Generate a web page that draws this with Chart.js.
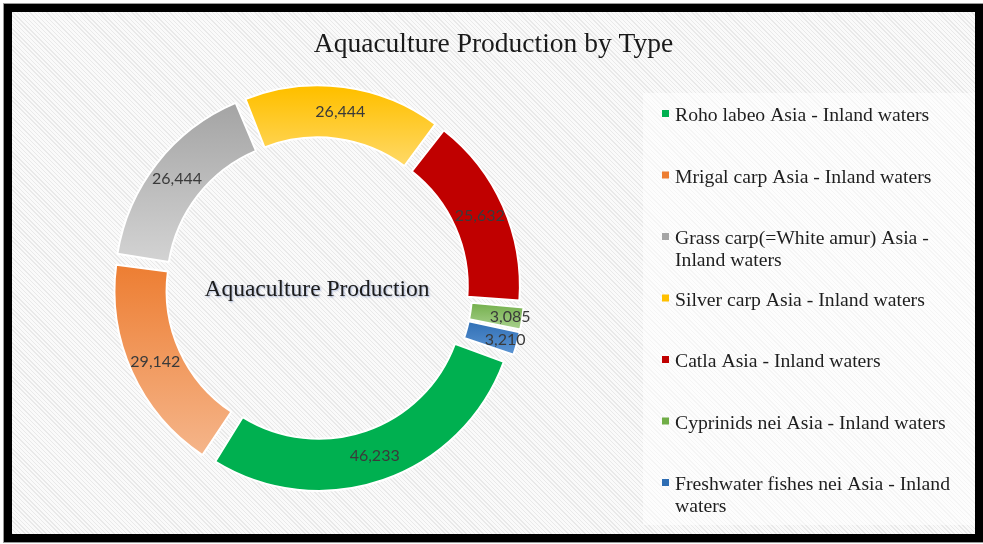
<!DOCTYPE html>
<html>
<head>
<meta charset="utf-8">
<title>Aquaculture Production by Type</title>
<script src="https://cdn.jsdelivr.net/npm/chart.js@4.4.1/dist/chart.umd.min.js"></script>
<style>
  html, body { margin: 0; padding: 0; background: #ffffff; }
  #frame {
    position: absolute; left: 4px; top: 4px;
    width: 979px; height: 538px; box-sizing: border-box;
    border: 8px solid #000000;
    box-shadow: 0 0 0 1px #9a9a9a;
    background: repeating-linear-gradient(45deg, #e9e9e9 0px, #e9e9e9 1px, #fafafa 1px, #fafafa 3px);
  }
  #chart { position: absolute; left: 0; top: 0; }
</style>
</head>
<body>
<div id="frame"><canvas id="chart" width="963" height="522"></canvas></div>
<script>
// Chart content
const chartTitle = 'Aquaculture Production by Type';
const centerLabel = 'Aquaculture Production';
const categories = [
  'Roho labeo Asia - Inland waters',
  'Mrigal carp Asia - Inland waters',
  'Grass carp(=White amur) Asia - Inland waters',
  'Silver carp Asia - Inland waters',
  'Catla Asia - Inland waters',
  'Cyprinids nei Asia - Inland waters',
  'Freshwater fishes nei Asia - Inland waters'
];
const production = [46233, 29142, 26444, 26444, 25632, 3085, 3210];

// Slice fills: top and bottom colour of each vertical gradient
const sliceTop    = ['#00B050', '#ED7D31', '#A5A5A5', '#FFC000', '#C00000', '#70AD47', '#2E6DB3'];
const sliceBottom = ['#00B050', '#F5B58A', '#D4D4D4', '#FFDB70', '#C00000', '#A9D18E', '#5A93D2'];
const markerColors = ['#00B050', '#ED7D31', '#A5A5A5', '#FFC000', '#C00000', '#70AD47', '#2E6DB3'];

const SERIF = '"Liberation Serif", "Times New Roman", serif';

function arcProps(arc) {
  return arc.getProps(['x', 'y', 'startAngle', 'endAngle', 'innerRadius', 'outerRadius'], true);
}

// Radial distance Chart.js moves an arc when drawing it (offset + spacing)
function arcShift(arc, p) {
  const off = (arc.options.offset || 0) / 4;
  const gap = (arc.options.spacing || 0) / 2;
  const fix = 1 - Math.sin(Math.min(Math.PI, p.endAngle - p.startAngle));
  return off * (1 + fix) + off * fix + gap;
}

// Give every slice a top-to-bottom gradient spanning its own height
const sliceGradients = {
  id: 'sliceGradients',
  afterDatasetsUpdate(chart) {
    const ctx = chart.ctx;
    chart.getDatasetMeta(0).data.forEach((arc, i) => {
      const p = arcProps(arc);
      let yMin = Infinity, yMax = -Infinity;
      for (let k = 0; k <= 32; k++) {
        const a = p.startAngle + (p.endAngle - p.startAngle) * k / 32;
        [p.innerRadius, p.outerRadius].forEach(r => {
          const py = p.y + Math.sin(a) * r;
          yMin = Math.min(yMin, py);
          yMax = Math.max(yMax, py);
        });
      }
      const g = ctx.createLinearGradient(0, yMin, 0, yMax + 1);
      g.addColorStop(0, sliceTop[i]);
      g.addColorStop(1, sliceBottom[i]);
      arc.options = Object.assign({}, arc.options, { backgroundColor: g });
    });
  }
};

// Value labels on the ring
const sliceLabels = {
  id: 'sliceLabels',
  afterDatasetsDraw(chart) {
    const ctx = chart.ctx;
    const meta = chart.getDatasetMeta(0);
    const total = production.reduce((s, v) => s + v, 0);
    ctx.save();
    ctx.font = '16px Lato, "Open Sans", sans-serif';
    ctx.fillStyle = '#3a3a3a';
    ctx.textAlign = 'center';
    ctx.textBaseline = 'middle';
    meta.data.forEach((arc, i) => {
      const p = arcProps(arc);
      const mid = (p.startAngle + p.endAngle) / 2;
      const thin = production[i] / total < 0.05;
      const r = (thin ? p.outerRadius - 17 : (p.innerRadius + p.outerRadius) / 2) + arcShift(arc, p);
      ctx.fillText(production[i].toLocaleString('en-US'), p.x + Math.cos(mid) * r, p.y + Math.sin(mid) * r);
    });
    ctx.restore();
  }
};

// Caption in the hole of the doughnut
const centerCaption = {
  id: 'centerCaption',
  afterDatasetsDraw(chart) {
    const arc = chart.getDatasetMeta(0).data[0];
    if (!arc) return;
    const ctx = chart.ctx;
    ctx.save();
    ctx.font = '23.5px ' + SERIF;
    ctx.fillStyle = '#1c1c1c';
    ctx.textAlign = 'center';
    ctx.textBaseline = 'middle';
    ctx.shadowColor = 'rgba(70, 100, 170, 0.45)';
    ctx.shadowBlur = 2;
    ctx.shadowOffsetX = 1;
    ctx.shadowOffsetY = 1;
    ctx.fillText(centerLabel, arc.x, arc.y + 1);
    ctx.restore();
  }
};

// Right-hand legend panel: reserves its width and draws wrapped entries
const legendPanel = {
  id: 'legendPanel',
  afterLayout(chart, args, opts) {
    const area = chart.chartArea;
    area.right = chart.width - opts.width;
    area.width = area.right - area.left;
  },
  beforeDraw(chart, args, opts) {
    const ctx = chart.ctx;
    ctx.save();
    ctx.fillStyle = 'rgba(255, 255, 255, 0.55)';
    ctx.fillRect(opts.boxLeft, opts.boxTop, chart.width - opts.boxLeft, opts.boxBottom - opts.boxTop);
    ctx.restore();
  },
  afterDraw(chart, args, opts) {
    const ctx = chart.ctx;
    ctx.save();
    ctx.font = opts.fontSize + 'px ' + SERIF;
    ctx.textAlign = 'left';
    ctx.textBaseline = 'alphabetic';
    categories.forEach((name, i) => {
      const base = opts.firstBaseline + i * opts.pitch;
      // word wrap
      const words = name.split(' ');
      const lines = [];
      let line = '';
      words.forEach(w => {
        const test = line ? line + ' ' + w : w;
        if (line && ctx.measureText(test).width > opts.wrapWidth) {
          lines.push(line);
          line = w;
        } else {
          line = test;
        }
      });
      lines.push(line);
      ctx.fillStyle = markerColors[i];
      ctx.fillRect(opts.markerX, base - 11, 7, 7);
      ctx.fillStyle = '#1e1e1e';
      lines.forEach((t, k) => ctx.fillText(t, opts.textX, base + k * opts.lineGap));
    });
    ctx.restore();
  }
};

new Chart(document.getElementById('chart'), {
  type: 'doughnut',
  data: {
    labels: categories,
    datasets: [{
      data: production,
      backgroundColor: sliceTop,
      borderColor: '#ffffff',
      borderWidth: 2,
      offset: 22,
      spacing: 8
    }]
  },
  options: {
    responsive: false,
    animation: false,
    events: [],
    rotation: 109,
    radius: 193,
    cutout: '73%',
    layout: { padding: { bottom: 26 } },
    plugins: {
      title: {
        display: true,
        text: chartTitle,
        color: '#1a1a1a',
        font: { family: SERIF, size: 27.5, weight: 'normal', lineHeight: 1.2 },
        padding: { top: 16, bottom: 8 }
      },
      legend: { display: false },
      tooltip: { enabled: false },
      legendPanel: {
        width: 353,
        boxLeft: 631, boxTop: 81, boxBottom: 513,
        markerX: 650, textX: 663,
        firstBaseline: 109, pitch: 61.5, lineGap: 22,
        fontSize: 19.7, wrapWidth: 290
      }
    }
  },
  plugins: [legendPanel, sliceGradients, sliceLabels, centerCaption]
});
</script>
</body>
</html>
